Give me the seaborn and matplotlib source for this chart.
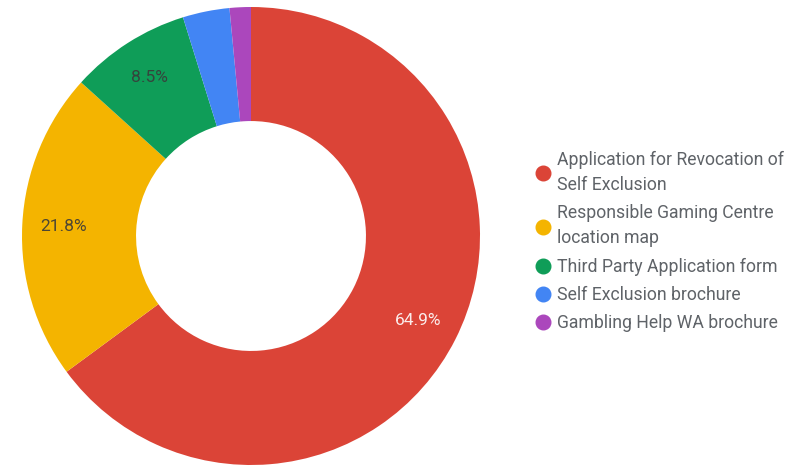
import matplotlib
matplotlib.use("Agg")
import matplotlib.pyplot as plt
from matplotlib.lines import Line2D
import seaborn as sns

categories = [
    "Application for Revocation of\nSelf Exclusion",
    "Responsible Gaming Centre\nlocation map",
    "Third Party Application form",
    "Self Exclusion brochure",
    "Gambling Help WA brochure",
]
shares = [64.9, 21.8, 8.5, 3.3, 1.5]
slice_colors = ["#DB4437", "#F4B400", "#0F9D58", "#4285F4", "#AB47BC"]
label_colors = ["#FFFFFF", "#3a3a3a", "#3a3a3a", "#3a3a3a", "#3a3a3a"]

sns.set_theme(style="white")
plt.rcParams["font.family"] = ["Roboto", "DejaVu Sans"]

W, H = 796, 470
fig = plt.figure(figsize=(W / 100, H / 100), dpi=100)
fig.patch.set_facecolor("white")

# donut occupies a square box on the left
cx, cy, R = 251, 236, 229
ax = fig.add_axes([(cx - R) / W, (H - cy - R) / H, 2 * R / W, 2 * R / H])

palette = sns.color_palette(slice_colors)


def pct_text(p):
    return f"{p:.1f}%" if p >= 5 else ""


wedges, _, autotexts = ax.pie(
    shares,
    colors=palette,
    startangle=90,
    counterclock=False,
    radius=1.0,
    wedgeprops=dict(width=0.498, linewidth=0, antialiased=True),
    autopct=pct_text,
    pctdistance=0.82,
    textprops=dict(fontsize=12.5, family=["Roboto", "DejaVu Sans"]),
)
ax.set_xlim(-1, 1)
ax.set_ylim(-1, 1)
ax.set_aspect("equal")
ax.axis("off")
for t, c in zip(autotexts, label_colors):
    t.set_color(c)
    t.set_alpha(0.9)

handles = [
    Line2D([0], [0], marker="o", linestyle="", markersize=10.5,
           markerfacecolor=c, markeredgecolor=c)
    for c in palette
]
leg = fig.legend(
    handles, categories,
    loc="upper left",
    bbox_to_anchor=(526 / W, 1 - 144 / H),
    frameon=False,
    fontsize=12.7,
    handletextpad=0.25,
    labelspacing=0.58,
    handlelength=1.1,
    borderaxespad=0,
)
for txt in leg.get_texts():
    txt.set_color("#5f6368")
    txt.set_linespacing(1.5)

fig.savefig("out.png", dpi=100, facecolor="white")
